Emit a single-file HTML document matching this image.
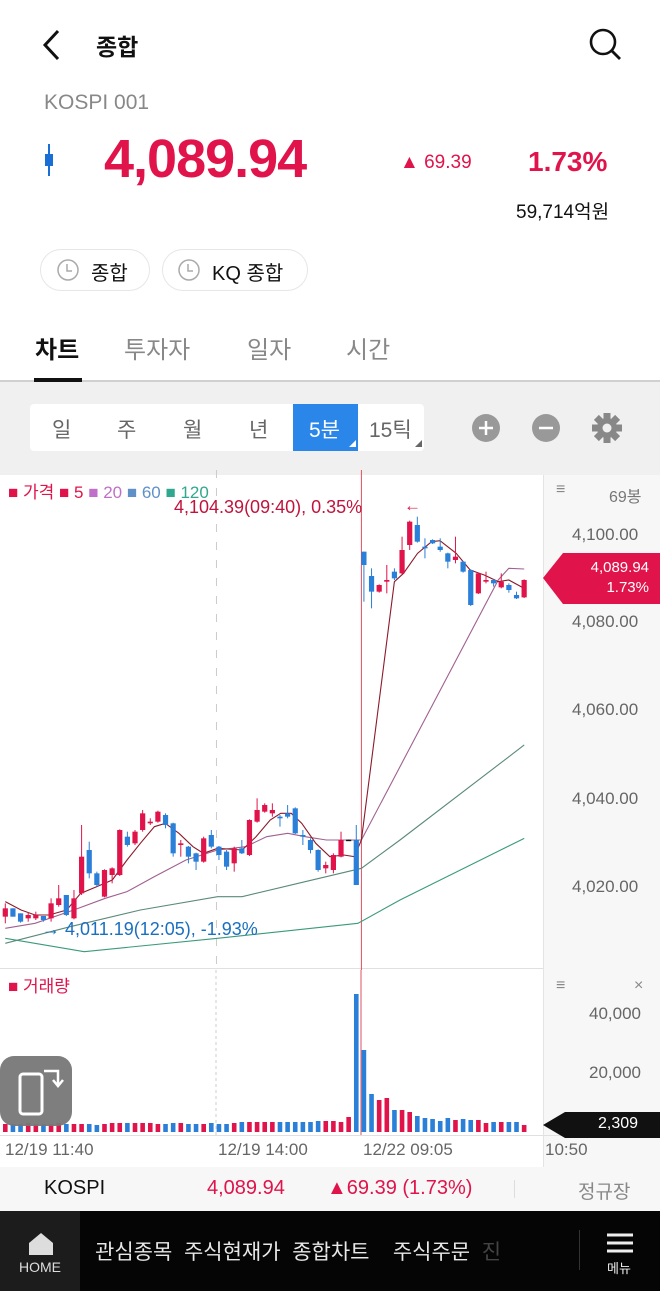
<!DOCTYPE html>
<html><head><meta charset="utf-8"><style>
*{margin:0;padding:0;box-sizing:border-box}
body{width:660px;height:1291px;overflow:hidden;background:#fff;font-family:"Liberation Sans","Noto Sans CJK KR",sans-serif;position:relative;color:#111}
.a{position:absolute;white-space:nowrap}
.red{color:#e0134a}
</style></head><body>
<svg class="a" style="left:38px;top:28px" width="26" height="34"><path d="M20 3 L7 17 L20 31" stroke="#111" stroke-width="3" fill="none"/></svg>
<div class="a" style="left:96px;top:28px;font-size:23px;font-weight:bold">종합</div>
<svg class="a" style="left:588px;top:26px" width="36" height="36"><circle cx="15" cy="16" r="12" stroke="#111" stroke-width="2.6" fill="none"/><path d="M24 25 L32 33" stroke="#111" stroke-width="2.8"/></svg>
<div class="a" style="left:44px;top:91px;font-size:21px;color:#888">KOSPI 001</div>
<div class="a" style="left:48px;top:144px;width:2px;height:32px;background:#1a6fd6"></div>
<div class="a" style="left:45px;top:154px;width:8px;height:12px;background:#1a6fd6"></div>
<div class="a red" style="left:104px;top:128px;font-size:54px;font-weight:bold;letter-spacing:-1px">4,089.94</div>
<div class="a red" style="left:400px;top:152px;font-size:19px">▲ 69.39</div>
<div class="a red" style="left:528px;top:146px;font-size:28px;font-weight:bold">1.73%</div>
<div class="a" style="left:516px;top:197px;font-size:19px">59,714억원</div>
<div class="a" style="left:40px;top:249px;width:110px;height:42px;border:1.5px solid #e6e6e6;border-radius:21px"></div>
<div class="a" style="left:162px;top:249px;width:146px;height:42px;border:1.5px solid #e6e6e6;border-radius:21px"></div>
<svg class="a" style="left:56px;top:258px" width="24" height="24"><circle cx="12" cy="12" r="10" stroke="#aaa" stroke-width="1.5" fill="none"/><path d="M11 6 V13 H16" stroke="#aaa" stroke-width="1.5" fill="none"/></svg>
<svg class="a" style="left:177px;top:258px" width="24" height="24"><circle cx="12" cy="12" r="10" stroke="#aaa" stroke-width="1.5" fill="none"/><path d="M11 6 V13 H16" stroke="#aaa" stroke-width="1.5" fill="none"/></svg>
<div class="a" style="left:91px;top:257px;font-size:20px">종합</div>
<div class="a" style="left:212px;top:257px;font-size:20px">KQ 종합</div>
<div class="a" style="left:35px;top:330px;font-size:24px;font-weight:bold">차트</div>
<div class="a" style="left:124px;top:330px;font-size:24px;color:#888">투자자</div>
<div class="a" style="left:247px;top:330px;font-size:24px;color:#888">일자</div>
<div class="a" style="left:346px;top:330px;font-size:24px;color:#888">시간</div>
<div class="a" style="left:0;top:380px;width:660px;height:95px;background:#f0f0f0;border-top:2px solid #d0d0d0"></div>
<div class="a" style="left:34px;top:378px;width:48px;height:4px;background:#111"></div>
<div class="a" style="left:30px;top:404px;width:394px;height:47px;background:#fff;border-radius:4px"></div>
<div class="a" style="left:293px;top:404px;width:65px;height:47px;background:#2a86e8"></div>
<div class="a" style="left:52px;top:414px;font-size:21px;color:#666">일</div>
<div class="a" style="left:117px;top:414px;font-size:21px;color:#666">주</div>
<div class="a" style="left:183px;top:414px;font-size:21px;color:#666">월</div>
<div class="a" style="left:249px;top:414px;font-size:21px;color:#666">년</div>
<div class="a" style="left:309px;top:414px;font-size:21px;color:#fff">5분</div>
<div class="a" style="left:369px;top:414px;font-size:21px;color:#666">15틱</div>
<svg class="a" style="left:0;top:380px" width="660" height="95"><path d="M356 60 L356 67 L349 67Z" fill="#fff"/><path d="M422 60 L422 67 L415 67Z" fill="#666"/>
<circle cx="486" cy="48" r="14" fill="#999"/><path d="M479 48 H493 M486 41 V55" stroke="#fff" stroke-width="2.5"/>
<circle cx="546" cy="48" r="14" fill="#999"/><path d="M539 48 H553" stroke="#fff" stroke-width="2.5"/>
<g transform="translate(607,48)" fill="#888"><circle r="10"/><g id="t"><rect x="-3.5" y="-15" width="7" height="30"/></g><use href="#t" transform="rotate(45)"/><use href="#t" transform="rotate(90)"/><use href="#t" transform="rotate(135)"/><circle r="4.5" fill="#f0f0f0"/></g></svg>
<div class="a" style="left:543px;top:475px;width:117px;height:692px;background:#f7f7f7;border-left:1px solid #e4e4e4"></div>
<div class="a" style="left:0;top:968px;width:543px;height:1px;background:#e0e0e0"></div>
<div class="a" style="left:0;top:1135px;width:660px;height:1px;background:#e0e0e0"></div>
<svg id="ch" class="a" style="left:0;top:0" width="660" height="1291"></svg>
<div class="a" style="left:8px;top:478px;font-size:17px"><span class="red">■ 가격</span> <span class="red">■ 5</span> <span style="color:#c070c8">■ 20</span> <span style="color:#6090c8">■ 60</span> <span style="color:#30a890">■ 120</span></div>
<div class="a" style="left:174px;top:497px;font-size:18px;color:#c0143c">4,104.39(09:40), 0.35%</div>
<div class="a" style="left:404px;top:496px;font-size:17px;color:#e0134a">←</div>
<div class="a" style="left:42px;top:919px;font-size:18px;color:#1a6fc0">→ 4,011.19(12:05), -1.93%</div>
<div class="a" style="left:8px;top:972px;font-size:17px" ><span class="red">■ 거래량</span></div>
<div class="a" style="left:556px;top:481px;font-size:16px;color:#888">≡</div>
<div class="a" style="left:609px;top:483px;font-size:16px;color:#777">69봉</div>
<div class="a" style="left:572px;top:525px;font-size:17px;color:#666">4,100.00</div>
<div class="a" style="left:572px;top:612px;font-size:17px;color:#666">4,080.00</div>
<div class="a" style="left:572px;top:700px;font-size:17px;color:#666">4,060.00</div>
<div class="a" style="left:572px;top:789px;font-size:17px;color:#666">4,040.00</div>
<div class="a" style="left:572px;top:877px;font-size:17px;color:#666">4,020.00</div>
<svg class="a" style="left:543px;top:553px" width="117" height="51"><path d="M0 25 L20 0 H117 V51 H20Z" fill="#e0134a"/></svg>
<div class="a" style="left:573px;top:558px;font-size:15px;color:#fff;text-align:right;width:76px;line-height:20px">4,089.94<br>1.73%</div>
<div class="a" style="left:556px;top:977px;font-size:16px;color:#888">≡</div>
<div class="a" style="left:634px;top:977px;font-size:16px;color:#888">×</div>
<div class="a" style="left:589px;top:1004px;font-size:17px;color:#666">40,000</div>
<div class="a" style="left:589px;top:1063px;font-size:17px;color:#666">20,000</div>
<svg class="a" style="left:543px;top:1112px" width="117" height="26"><path d="M0 13 L22 0 H117 V26 H22Z" fill="#111"/></svg>
<div class="a" style="left:598px;top:1115px;font-size:16px;color:#fff">2,309</div>
<div class="a" style="left:5px;top:1140px;font-size:17px;color:#666">12/19 11:40</div>
<div class="a" style="left:218px;top:1140px;font-size:17px;color:#666">12/19 14:00</div>
<div class="a" style="left:363px;top:1140px;font-size:17px;color:#666">12/22 09:05</div>
<div class="a" style="left:545px;top:1140px;font-size:17px;color:#666">10:50</div>
<div class="a" style="left:0;top:1167px;width:660px;height:44px;background:#f7f7f7"></div>
<div class="a" style="left:44px;top:1177px;font-size:20px">KOSPI</div>
<div class="a red" style="left:207px;top:1177px;font-size:20px">4,089.94</div>
<div class="a red" style="left:327px;top:1177px;font-size:20px">▲69.39 (1.73%)</div>
<div class="a" style="left:514px;top:1180px;width:1px;height:18px;background:#ddd"></div>
<div class="a" style="left:578px;top:1177px;font-size:19px;color:#888">정규장</div>
<div class="a" style="left:0;top:1056px;width:72px;height:70px;background:#777;border-radius:14px;opacity:.95"></div>
<svg class="a" style="left:0;top:1056px" width="72" height="70"><rect x="20" y="18" width="22" height="40" rx="3" stroke="#fff" stroke-width="3" fill="none"/><path d="M44 15 H58 V28 M53 24 L58 30 L63 24" stroke="#fff" stroke-width="2.5" fill="none"/></svg>
<div class="a" style="left:0;top:1211px;width:660px;height:80px;background:#050505"></div>
<div class="a" style="left:0;top:1211px;width:80px;height:80px;background:#1c1c1c"></div>
<svg class="a" style="left:28px;top:1232px" width="26" height="24"><path d="M13 1 L1 11 V23 H25 V11Z" fill="#ddd"/></svg>
<div class="a" style="left:19px;top:1259px;font-size:14px;color:#ddd">HOME</div>
<div class="a" style="left:95px;top:1236px;font-size:21px;color:#e8e8e8">관심종목&nbsp;&nbsp;주식현재가&nbsp;&nbsp;종합차트&nbsp;&nbsp;&nbsp;&nbsp;주식주문&nbsp;&nbsp;<span style="color:#444">진</span></div>
<div class="a" style="left:579px;top:1230px;width:1px;height:40px;background:#333"></div>
<div class="a" style="left:580px;top:1211px;width:80px;height:80px;background:#050505"></div>
<svg class="a" style="left:606px;top:1232px" width="28" height="22"><path d="M1 3 H27 M1 11 H27 M1 19 H27" stroke="#eee" stroke-width="3"/></svg>
<div class="a" style="left:607px;top:1258px;font-size:13px;color:#eee">메뉴</div>
<script>
var C=[[1315,1340,1300,1360,1],[1315,1340,1315,1340,0],[1330,1355,1330,1358,0],[1335,1345,1328,1355,1],[1335,1345,1325,1350,1],[1338,1350,1338,1355,0],[1300,1345,1285,1355,1],[1285,1305,1245,1310,1],[1275,1335,1275,1338,0],[1285,1345,1260,1348,1],[1160,1270,1065,1275,1],[1140,1210,1115,1225,0],[1210,1245,1205,1250,0],[1200,1280,1198,1282,1],[1195,1215,1192,1240,1],[1080,1215,1078,1218,1],[1100,1125,1085,1130,0],[1085,1120,1080,1125,1],[1030,1080,1020,1085,1],[1055,1060,1045,1065,1],[1025,1055,1022,1058,1],[1035,1065,1030,1075,0],[1060,1150,1058,1160,0],[1120,1125,1110,1160,1],[1130,1160,1128,1180,0],[1150,1175,1148,1200,0],[1105,1175,1100,1178,1],[1095,1130,1080,1135,0],[1130,1155,1128,1170,0],[1145,1190,1140,1200,0],[1135,1180,1130,1205,1],[1135,1150,1110,1152,0],[1050,1155,1048,1158,1],[1020,1055,985,1058,1],[1005,1025,1000,1028,1],[1020,1030,1000,1040,1],[1040,1045,1035,1070,0],[1030,1040,1005,1045,0],[1015,1090,1012,1092,0],[1095,1100,1080,1125,0],[1110,1140,1105,1150,0],[1140,1200,1138,1205,0],[1185,1195,1175,1210,1],[1155,1200,1150,1210,1],[1110,1160,1085,1162,1],[1109,1112,1109,1112,2],[1110,1245,1065,1245,0],
[245,285,245,395,0],[318,365,295,415,0],[345,365,343,368,1],[330,335,285,370,1],[305,325,295,330,0],[240,310,200,312,1],[155,225,152,240,1],[165,215,140,218,0],[230,235,205,265,0],[210,220,208,222,0],[230,240,205,245,0],[250,275,248,295,0],[260,270,200,280,1],[275,305,273,308,0],[300,405,298,408,0],[310,370,308,372,1],[330,335,305,340,1],[330,340,328,350,0],[335,352,310,355,1],[345,360,340,368,0],[375,385,365,387,0],[330,382,328,384,1]];
var V=[8,8,8,9,8,8,8,9,8,8,8,8,7,8,9,9,9,9,9,9,8,8,9,9,8,8,8,9,8,8,9,10,10,10,10,10,10,10,10,10,10,11,11,11,10,15,138,82,38,32,34,22,22,20,16,14,13,11,14,12,13,12,12,9,10,10,10,10,7];
var VC=[];for(var k=0;k<69;k++)VC.push(C[k][4]);VC[45]=1;VC[46]=0;VC[47]=0;VC[48]=0;VC[49]=1;VC[50]=1;
var s='<g transform="translate(0,470) scale(0.35088,0.33333)">';
s+='<line x1="617" y1="0" x2="617" y2="1500" stroke="#ccc" stroke-dasharray="8,10" vector-effect="non-scaling-stroke"/>';
s+='<line x1="1030" y1="0" x2="1030" y2="1500" stroke="#e05060" vector-effect="non-scaling-stroke"/>';
function pl(p,c){return '<polyline points="'+p+'" fill="none" stroke="'+c+'" stroke-width="1.1" vector-effect="non-scaling-stroke"/>';}
s+=pl("15,1405 240,1445 620,1405 1020,1360 1140,1290 1494,1105","#3a9a7a");
s+=pl("15,1420 200,1370 400,1320 620,1280 690,1280 850,1240 1030,1195 1140,1110 1494,825","#5a8a7a");
s+=pl("15,1375 100,1360 210,1320 300,1285 362,1265 440,1220 530,1170 620,1140 700,1130 760,1100 820,1090 870,1100 930,1110 1030,1110 1420,330 1450,295 1494,297","#a06090");
s+=pl("15,1295 60,1320 100,1335 140,1335 190,1320 230,1270 276,1250 320,1230 362,1170 400,1120 440,1070 471,1060 510,1090 550,1130 580,1150 620,1135 690,1140 730,1100 770,1050 800,1030 830,1030 860,1060 900,1120 940,1160 980,1155 1010,1160 1030,1110 1124,335 1150,310 1190,250 1230,215 1254,212 1300,250 1340,300 1380,315 1420,335 1450,330 1494,355","#8b1a2a");
s+='</g>';
for(var i=0;i<C.length;i++){var c=C[i],x=5.3+7.63*i,col=c[4]==1?'#e0134a':c[4]==2?'#111':'#2a7fd8';
var t=470+c[0]/3,b=470+c[1]/3,h=470+c[2]/3,l=470+c[3]/3;
s+='<line x1="'+x+'" y1="'+h+'" x2="'+x+'" y2="'+l+'" stroke="'+col+'" stroke-width="1"/>';
s+='<rect x="'+(x-2.6)+'" y="'+t+'" width="5.2" height="'+Math.max(b-t,1.5)+'" fill="'+col+'"/>';
var vh=V[i],vc=VC[i]==1?'#e0134a':'#2a7fd8';s+='<rect x="'+(x-2.3)+'" y="'+(1132-vh)+'" width="4.6" height="'+vh+'" fill="'+vc+'"/>';}
s+='<line x1="216" y1="970" x2="216" y2="1135" stroke="#ccc" stroke-dasharray="3,3"/><line x1="361" y1="970" x2="361" y2="1135" stroke="#e05060"/>';
document.getElementById('ch').innerHTML=s;
</script>
</body></html>
